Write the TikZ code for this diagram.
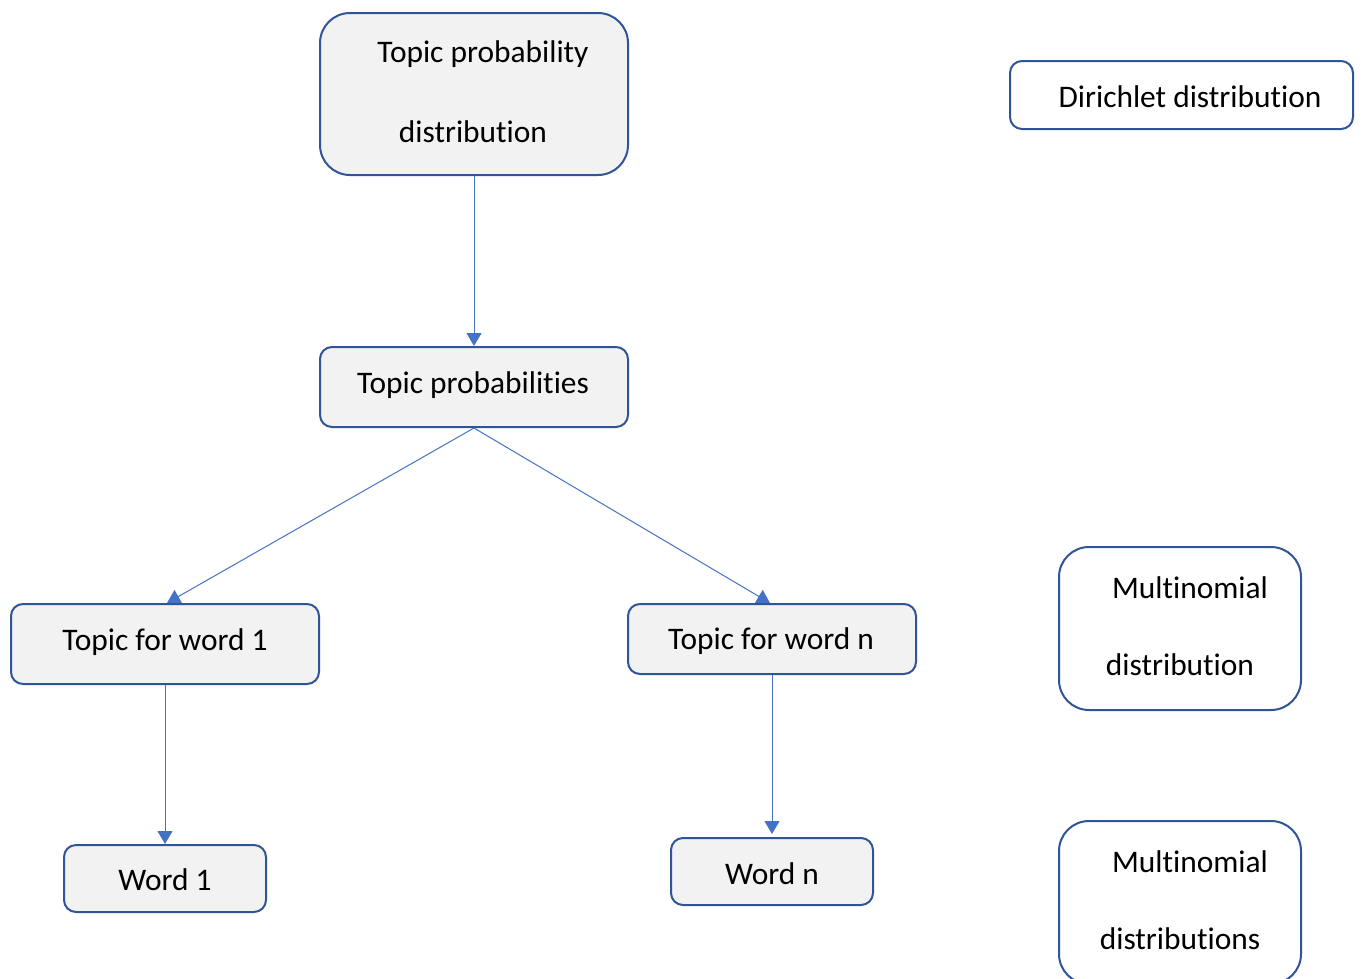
\documentclass[tikz,border=0pt]{standalone}
\usepackage{fontspec}
\setmainfont[Ligatures={NoCommon}]{Carlito}
\usetikzlibrary{arrows.meta}
\definecolor{bordc}{HTML}{2F5597}
\definecolor{arrc}{HTML}{4472C4}
\definecolor{boxfill}{HTML}{F2F2F2}
\tikzset{
  box/.style={draw=bordc, line width=2pt, fill=boxfill, rounded corners=12pt, inner sep=0pt},
  bigbox/.style={box, rounded corners=30pt},
  wbox/.style={box, fill=white},
  wbigbox/.style={bigbox, fill=white},
  txt/.style={anchor=base, inner sep=0pt, font=\fontsize{31.4}{37}\selectfont},
  conn/.style={draw=arrc, line width=1pt, -{Triangle[width=15pt,length=13pt]}},
}
\begin{document}
\begin{tikzpicture}[x=1pt,y=-1pt]
\clip (0,0) rectangle (1362,978);
% boxes
\node[bigbox, minimum width=308pt, minimum height=162pt] (tpd) at (474,94) {};
\node[box, minimum width=308pt, minimum height=80pt] (tps) at (474,387) {};
\node[box, minimum width=308pt, minimum height=80pt] (tw1) at (165,644) {};
\node[box, minimum width=288pt, minimum height=70pt] (twn) at (772,639) {};
\node[box, minimum width=202pt, minimum height=67pt] (w1) at (165,878.5) {};
\node[box, minimum width=202pt, minimum height=67pt] (wn) at (772,871.5) {};
\node[wbox, minimum width=343pt, minimum height=68pt] (dir) at (1181.5,95) {};
\node[wbigbox, minimum width=242pt, minimum height=163pt] (mn1) at (1180,628.5) {};
\node[wbigbox, minimum width=242pt, minimum height=163pt] (mn2) at (1180,902.5) {};
% texts
\node[txt] (tpdA) at (483,62) {Topic probability};
\node[txt] (tpdB) at (473,142) {distribution};
\node[txt] (tpsT) at (473,393) {Topic probabilities};
\node[txt] (tw1T) at (165,650) {Topic for word 1};
\node[txt] (twnT) at (771,649) {Topic for word n};
\node[txt] (w1T) at (165,890) {Word 1};
\node[txt] (wnT) at (772,884) {Word n};
\node[txt] (dirT) at (1190,107) {Dirichlet distribution};
\node[txt] (mn1A) at (1190,598) {Multinomial};
\node[txt] (mn1B) at (1180,675) {distribution};
\node[txt] (mn2A) at (1190,872) {Multinomial};
\node[txt] (mn2B) at (1180,949) {distributions};
% connectors
\draw[conn] (tpd.south) -- (tps.north);
\draw[conn] (tps.south) -- ([xshift=2pt]tw1.north);
\draw[conn] (tps.south) -- ([xshift=-2pt]twn.north);
\draw[conn] (tw1.south) -- (w1.north);
\draw[conn] (twn.south) -- ([yshift=3pt]wn.north);
\end{tikzpicture}
\end{document}
